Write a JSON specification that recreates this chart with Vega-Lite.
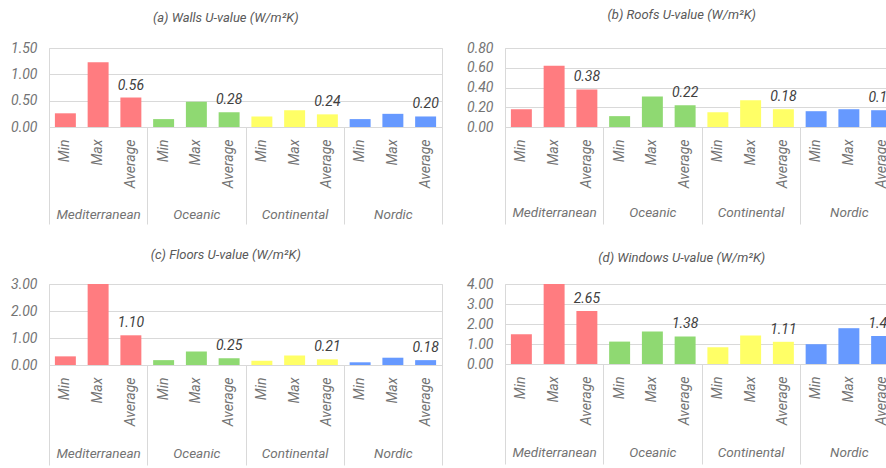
{
  "$schema": "https://vega.github.io/schema/vega-lite/v6.json",
  "padding": {"left": 8, "top": 8, "right": 0, "bottom": 0},
  "background": "white",
  "datasets": {
    "u": [
      {"panel": "a", "climate": "Mediterranean", "stat": "Min", "key": "Mediterranean|Min", "value": 0.26},
      {"panel": "a", "climate": "Mediterranean", "stat": "Max", "key": "Mediterranean|Max", "value": 1.23},
      {"panel": "a", "climate": "Mediterranean", "stat": "Average", "key": "Mediterranean|Average", "value": 0.56},
      {"panel": "a", "climate": "Oceanic", "stat": "Min", "key": "Oceanic|Min", "value": 0.15},
      {"panel": "a", "climate": "Oceanic", "stat": "Max", "key": "Oceanic|Max", "value": 0.48},
      {"panel": "a", "climate": "Oceanic", "stat": "Average", "key": "Oceanic|Average", "value": 0.28},
      {"panel": "a", "climate": "Continental", "stat": "Min", "key": "Continental|Min", "value": 0.2},
      {"panel": "a", "climate": "Continental", "stat": "Max", "key": "Continental|Max", "value": 0.32},
      {"panel": "a", "climate": "Continental", "stat": "Average", "key": "Continental|Average", "value": 0.24},
      {"panel": "a", "climate": "Nordic", "stat": "Min", "key": "Nordic|Min", "value": 0.15},
      {"panel": "a", "climate": "Nordic", "stat": "Max", "key": "Nordic|Max", "value": 0.25},
      {"panel": "a", "climate": "Nordic", "stat": "Average", "key": "Nordic|Average", "value": 0.2},
      {"panel": "b", "climate": "Mediterranean", "stat": "Min", "key": "Mediterranean|Min", "value": 0.18},
      {"panel": "b", "climate": "Mediterranean", "stat": "Max", "key": "Mediterranean|Max", "value": 0.62},
      {"panel": "b", "climate": "Mediterranean", "stat": "Average", "key": "Mediterranean|Average", "value": 0.38},
      {"panel": "b", "climate": "Oceanic", "stat": "Min", "key": "Oceanic|Min", "value": 0.11},
      {"panel": "b", "climate": "Oceanic", "stat": "Max", "key": "Oceanic|Max", "value": 0.31},
      {"panel": "b", "climate": "Oceanic", "stat": "Average", "key": "Oceanic|Average", "value": 0.22},
      {"panel": "b", "climate": "Continental", "stat": "Min", "key": "Continental|Min", "value": 0.15},
      {"panel": "b", "climate": "Continental", "stat": "Max", "key": "Continental|Max", "value": 0.27},
      {"panel": "b", "climate": "Continental", "stat": "Average", "key": "Continental|Average", "value": 0.18},
      {"panel": "b", "climate": "Nordic", "stat": "Min", "key": "Nordic|Min", "value": 0.16},
      {"panel": "b", "climate": "Nordic", "stat": "Max", "key": "Nordic|Max", "value": 0.18},
      {"panel": "b", "climate": "Nordic", "stat": "Average", "key": "Nordic|Average", "value": 0.17},
      {"panel": "c", "climate": "Mediterranean", "stat": "Min", "key": "Mediterranean|Min", "value": 0.32},
      {"panel": "c", "climate": "Mediterranean", "stat": "Max", "key": "Mediterranean|Max", "value": 3.0},
      {"panel": "c", "climate": "Mediterranean", "stat": "Average", "key": "Mediterranean|Average", "value": 1.1},
      {"panel": "c", "climate": "Oceanic", "stat": "Min", "key": "Oceanic|Min", "value": 0.18},
      {"panel": "c", "climate": "Oceanic", "stat": "Max", "key": "Oceanic|Max", "value": 0.5},
      {"panel": "c", "climate": "Oceanic", "stat": "Average", "key": "Oceanic|Average", "value": 0.25},
      {"panel": "c", "climate": "Continental", "stat": "Min", "key": "Continental|Min", "value": 0.16},
      {"panel": "c", "climate": "Continental", "stat": "Max", "key": "Continental|Max", "value": 0.35},
      {"panel": "c", "climate": "Continental", "stat": "Average", "key": "Continental|Average", "value": 0.21},
      {"panel": "c", "climate": "Nordic", "stat": "Min", "key": "Nordic|Min", "value": 0.1},
      {"panel": "c", "climate": "Nordic", "stat": "Max", "key": "Nordic|Max", "value": 0.27},
      {"panel": "c", "climate": "Nordic", "stat": "Average", "key": "Nordic|Average", "value": 0.18},
      {"panel": "d", "climate": "Mediterranean", "stat": "Min", "key": "Mediterranean|Min", "value": 1.49},
      {"panel": "d", "climate": "Mediterranean", "stat": "Max", "key": "Mediterranean|Max", "value": 4.0},
      {"panel": "d", "climate": "Mediterranean", "stat": "Average", "key": "Mediterranean|Average", "value": 2.65},
      {"panel": "d", "climate": "Oceanic", "stat": "Min", "key": "Oceanic|Min", "value": 1.12},
      {"panel": "d", "climate": "Oceanic", "stat": "Max", "key": "Oceanic|Max", "value": 1.62},
      {"panel": "d", "climate": "Oceanic", "stat": "Average", "key": "Oceanic|Average", "value": 1.38},
      {"panel": "d", "climate": "Continental", "stat": "Min", "key": "Continental|Min", "value": 0.84},
      {"panel": "d", "climate": "Continental", "stat": "Max", "key": "Continental|Max", "value": 1.42},
      {"panel": "d", "climate": "Continental", "stat": "Average", "key": "Continental|Average", "value": 1.11},
      {"panel": "d", "climate": "Nordic", "stat": "Min", "key": "Nordic|Min", "value": 0.99},
      {"panel": "d", "climate": "Nordic", "stat": "Max", "key": "Nordic|Max", "value": 1.79},
      {"panel": "d", "climate": "Nordic", "stat": "Average", "key": "Nordic|Average", "value": 1.4}
    ]
  },
  "vconcat": [
    {
      "hconcat": [
        {
          "title": {"text": "(a) Walls U-value (W/m²K)", "offset": 16},
          "data": {"name": "u"},
          "transform": [{"filter": "datum.panel == 'a'"}],
          "width": 393, "height": 79,
          "layer": [
            {"layer": [
              {"mark": {"type": "bar"},
               "encoding": {
                 "x": {"field": "key", "type": "nominal", "sort": null,
                       "scale": {"domain": ["Mediterranean|Min","Mediterranean|Max","Mediterranean|Average","Oceanic|Min","Oceanic|Max","Oceanic|Average","Continental|Min","Continental|Max","Continental|Average","Nordic|Min","Nordic|Max","Nordic|Average"], "paddingInner": 0.36, "paddingOuter": 0.18},
                       "axis": {"orient": "bottom", "labelAngle": -90, "labelAlign": "right", "labelBaseline": "middle", "labelPadding": 12, "ticks": false, "domain": true, "domainColor": "#d9d9d9", "grid": false, "labelExpr": "split(datum.label, '|')[1]", "labelFontStyle": "italic", "labelFontSize": 14, "labelColor": "#737373", "labelOverlap": false, "title": null}},
                 "y": {"field": "value", "type": "quantitative",
                       "scale": {"domain": [0, 1.5], "nice": false},
                       "axis": {"values": [0, 0.5, 1, 1.5], "format": ".2f", "labelOverlap": false}},
                 "color": {"field": "climate", "type": "nominal", "scale": {"domain": ["Mediterranean","Oceanic","Continental","Nordic"], "range": ["#FF7C80","#8FD972","#FFFF66","#6699FF"]}, "legend": null}
               }},
              {"transform": [{"filter": "datum.stat == 'Average'"}],
               "mark": {"type": "text", "baseline": "bottom", "dy": -5, "fontSize": 14, "fontStyle": "italic", "color": "#404040"},
               "encoding": {
                 "x": {"field": "key", "type": "nominal", "sort": null},
                 "y": {"field": "value", "type": "quantitative", "axis": {"values": [0, 0.5, 1, 1.5], "format": ".2f", "labelOverlap": false}},
                 "text": {"field": "value", "type": "quantitative", "format": ".2f"}
               }}
            ]},
            {"mark": {"type": "point", "opacity": 0},
             "encoding": {
               "x": {"field": "climate", "type": "nominal", "sort": null,
                     "scale": {"type": "band", "domain": ["Mediterranean","Oceanic","Continental","Nordic"], "paddingInner": 0, "paddingOuter": 0},
                     "axis": {"orient": "bottom", "tickBand": "extent", "tickSize": 97, "tickColor": "#d9d9d9", "domain": false, "grid": false, "labelPadding": -10, "labelBaseline": "middle", "labelAngle": 0, "labelAlign": "center", "labelFontStyle": "italic", "labelFontSize": 13.5, "labelColor": "#737373", "labelOverlap": false, "title": null}}
             }}
          ],
          "resolve": {"scale": {"x": "independent"}, "axis": {"x": "independent"}}
        },
        {
          "title": {"text": "(b) Roofs U-value (W/m²K)", "offset": 19},
          "data": {"name": "u"},
          "transform": [{"filter": "datum.panel == 'b'"}],
          "width": 393, "height": 79,
          "layer": [
            {"layer": [
              {"mark": {"type": "bar"},
               "encoding": {
                 "x": {"field": "key", "type": "nominal", "sort": null,
                       "scale": {"domain": ["Mediterranean|Min","Mediterranean|Max","Mediterranean|Average","Oceanic|Min","Oceanic|Max","Oceanic|Average","Continental|Min","Continental|Max","Continental|Average","Nordic|Min","Nordic|Max","Nordic|Average"], "paddingInner": 0.36, "paddingOuter": 0.18},
                       "axis": {"orient": "bottom", "labelAngle": -90, "labelAlign": "right", "labelBaseline": "middle", "labelPadding": 12, "ticks": false, "domain": true, "domainColor": "#d9d9d9", "grid": false, "labelExpr": "split(datum.label, '|')[1]", "labelFontStyle": "italic", "labelFontSize": 14, "labelColor": "#737373", "labelOverlap": false, "title": null}},
                 "y": {"field": "value", "type": "quantitative",
                       "scale": {"domain": [0, 0.8], "nice": false},
                       "axis": {"values": [0, 0.2, 0.4, 0.6, 0.8], "format": ".2f", "labelOverlap": false}},
                 "color": {"field": "climate", "type": "nominal", "scale": {"domain": ["Mediterranean","Oceanic","Continental","Nordic"], "range": ["#FF7C80","#8FD972","#FFFF66","#6699FF"]}, "legend": null}
               }},
              {"transform": [{"filter": "datum.stat == 'Average'"}],
               "mark": {"type": "text", "baseline": "bottom", "dy": -5, "fontSize": 14, "fontStyle": "italic", "color": "#404040"},
               "encoding": {
                 "x": {"field": "key", "type": "nominal", "sort": null},
                 "y": {"field": "value", "type": "quantitative", "axis": {"values": [0, 0.2, 0.4, 0.6, 0.8], "format": ".2f", "labelOverlap": false}},
                 "text": {"field": "value", "type": "quantitative", "format": ".2f"}
               }}
            ]},
            {"mark": {"type": "point", "opacity": 0},
             "encoding": {
               "x": {"field": "climate", "type": "nominal", "sort": null,
                     "scale": {"type": "band", "domain": ["Mediterranean","Oceanic","Continental","Nordic"], "paddingInner": 0, "paddingOuter": 0},
                     "axis": {"orient": "bottom", "tickBand": "extent", "tickSize": 97, "tickColor": "#d9d9d9", "domain": false, "grid": false, "labelPadding": -12, "labelBaseline": "middle", "labelAngle": 0, "labelAlign": "center", "labelFontStyle": "italic", "labelFontSize": 13.5, "labelColor": "#737373", "labelOverlap": false, "title": null}}
             }}
          ],
          "resolve": {"scale": {"x": "independent"}, "axis": {"x": "independent"}}
        }
      ],
      "spacing": 21
    },
    {
      "hconcat": [
        {
          "title": {"text": "(c) Floors U-value (W/m²K)", "offset": 15},
          "data": {"name": "u"},
          "transform": [{"filter": "datum.panel == 'c'"}],
          "width": 393, "height": 81,
          "layer": [
            {"layer": [
              {"mark": {"type": "bar"},
               "encoding": {
                 "x": {"field": "key", "type": "nominal", "sort": null,
                       "scale": {"domain": ["Mediterranean|Min","Mediterranean|Max","Mediterranean|Average","Oceanic|Min","Oceanic|Max","Oceanic|Average","Continental|Min","Continental|Max","Continental|Average","Nordic|Min","Nordic|Max","Nordic|Average"], "paddingInner": 0.36, "paddingOuter": 0.18},
                       "axis": {"orient": "bottom", "labelAngle": -90, "labelAlign": "right", "labelBaseline": "middle", "labelPadding": 12, "ticks": false, "domain": true, "domainColor": "#d9d9d9", "grid": false, "labelExpr": "split(datum.label, '|')[1]", "labelFontStyle": "italic", "labelFontSize": 14, "labelColor": "#737373", "labelOverlap": false, "title": null}},
                 "y": {"field": "value", "type": "quantitative",
                       "scale": {"domain": [0, 3], "nice": false},
                       "axis": {"values": [0, 1, 2, 3], "format": ".2f", "labelOverlap": false}},
                 "color": {"field": "climate", "type": "nominal", "scale": {"domain": ["Mediterranean","Oceanic","Continental","Nordic"], "range": ["#FF7C80","#8FD972","#FFFF66","#6699FF"]}, "legend": null}
               }},
              {"transform": [{"filter": "datum.stat == 'Average'"}],
               "mark": {"type": "text", "baseline": "bottom", "dy": -5, "fontSize": 14, "fontStyle": "italic", "color": "#404040"},
               "encoding": {
                 "x": {"field": "key", "type": "nominal", "sort": null},
                 "y": {"field": "value", "type": "quantitative", "axis": {"values": [0, 1, 2, 3], "format": ".2f", "labelOverlap": false}},
                 "text": {"field": "value", "type": "quantitative", "format": ".2f"}
               }}
            ]},
            {"mark": {"type": "point", "opacity": 0},
             "encoding": {
               "x": {"field": "climate", "type": "nominal", "sort": null,
                     "scale": {"type": "band", "domain": ["Mediterranean","Oceanic","Continental","Nordic"], "paddingInner": 0, "paddingOuter": 0},
                     "axis": {"orient": "bottom", "tickBand": "extent", "tickSize": 100, "tickColor": "#d9d9d9", "domain": false, "grid": false, "labelPadding": -12, "labelBaseline": "middle", "labelAngle": 0, "labelAlign": "center", "labelFontStyle": "italic", "labelFontSize": 13.5, "labelColor": "#737373", "labelOverlap": false, "title": null}}
             }}
          ],
          "resolve": {"scale": {"x": "independent"}, "axis": {"x": "independent"}}
        },
        {
          "title": {"text": "(d) Windows U-value (W/m²K)", "offset": 12},
          "data": {"name": "u"},
          "transform": [{"filter": "datum.panel == 'd'"}],
          "width": 393, "height": 80,
          "layer": [
            {"layer": [
              {"mark": {"type": "bar"},
               "encoding": {
                 "x": {"field": "key", "type": "nominal", "sort": null,
                       "scale": {"domain": ["Mediterranean|Min","Mediterranean|Max","Mediterranean|Average","Oceanic|Min","Oceanic|Max","Oceanic|Average","Continental|Min","Continental|Max","Continental|Average","Nordic|Min","Nordic|Max","Nordic|Average"], "paddingInner": 0.36, "paddingOuter": 0.18},
                       "axis": {"orient": "bottom", "labelAngle": -90, "labelAlign": "right", "labelBaseline": "middle", "labelPadding": 12, "ticks": false, "domain": true, "domainColor": "#d9d9d9", "grid": false, "labelExpr": "split(datum.label, '|')[1]", "labelFontStyle": "italic", "labelFontSize": 14, "labelColor": "#737373", "labelOverlap": false, "title": null}},
                 "y": {"field": "value", "type": "quantitative",
                       "scale": {"domain": [0, 4], "nice": false},
                       "axis": {"values": [0, 1, 2, 3, 4], "format": ".2f", "labelOverlap": false}},
                 "color": {"field": "climate", "type": "nominal", "scale": {"domain": ["Mediterranean","Oceanic","Continental","Nordic"], "range": ["#FF7C80","#8FD972","#FFFF66","#6699FF"]}, "legend": null}
               }},
              {"transform": [{"filter": "datum.stat == 'Average'"}],
               "mark": {"type": "text", "baseline": "bottom", "dy": -5, "fontSize": 14, "fontStyle": "italic", "color": "#404040"},
               "encoding": {
                 "x": {"field": "key", "type": "nominal", "sort": null},
                 "y": {"field": "value", "type": "quantitative", "axis": {"values": [0, 1, 2, 3, 4], "format": ".2f", "labelOverlap": false}},
                 "text": {"field": "value", "type": "quantitative", "format": ".2f"}
               }}
            ]},
            {"mark": {"type": "point", "opacity": 0},
             "encoding": {
               "x": {"field": "climate", "type": "nominal", "sort": null,
                     "scale": {"type": "band", "domain": ["Mediterranean","Oceanic","Continental","Nordic"], "paddingInner": 0, "paddingOuter": 0},
                     "axis": {"orient": "bottom", "tickBand": "extent", "tickSize": 100, "tickColor": "#d9d9d9", "domain": false, "grid": false, "labelPadding": -12, "labelBaseline": "middle", "labelAngle": 0, "labelAlign": "center", "labelFontStyle": "italic", "labelFontSize": 13.5, "labelColor": "#737373", "labelOverlap": false, "title": null}}
             }}
          ],
          "resolve": {"scale": {"x": "independent"}, "axis": {"x": "independent"}}
        }
      ],
      "spacing": 21
    }
  ],
  "spacing": 23,
  "config": {
    "font": "Roboto",
    "view": {"stroke": "#d9d9d9"},
    "axisY": {"domain": false, "ticks": false, "grid": true, "gridColor": "#d9d9d9", "gridOpacity": 1, "labelPadding": 12, "labelFontStyle": "italic", "labelFontSize": 14, "labelColor": "#737373", "title": null, "minExtent": 40, "maxExtent": 40},
    "title": {"fontSize": 13, "fontStyle": "italic", "fontWeight": "normal", "color": "#595959", "frame": "bounds", "anchor": "middle", "offset": 15}
  }
}
